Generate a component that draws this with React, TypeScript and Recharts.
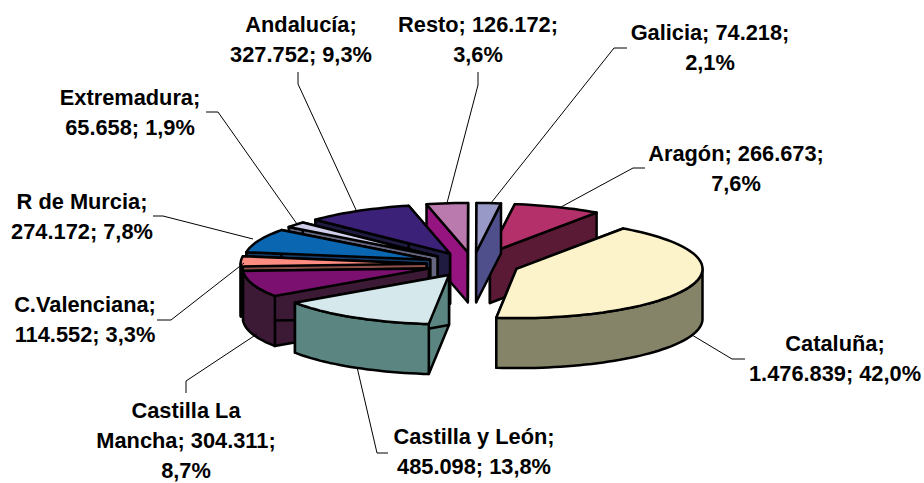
import { PieChart, Pie } from "recharts";

// paint order: the pie runs counter-clockwise from the Aragón / Cataluña edge,
// so Cataluña comes last and sits on top of its neighbours
const regions = [
  "Aragón",
  "Galicia",
  "Resto",
  "Andalucía",
  "Extremadura",
  "R de Murcia",
  "C.Valenciana",
  "Castilla La Mancha",
  "Castilla y León",
  "Cataluña",
];
const values = [266673, 74218, 126172, 327752, 65658, 274172, 114552, 304311, 485098, 1476839];
const topColors = [
  "#B3306B", "#9999C8", "#BB7AAE", "#3C2178", "#CFCFEC",
  "#0A66B0", "#FF8C80", "#7B1071", "#D5E9EC", "#FDF3CB",
];
const wallColors = [
  "#5A1A35", "#4F4F8C", "#961480", "#1F1A40", "#666680",
  "#163A66", "#8C4F4A", "#3C1A35", "#5B8580", "#858468",
];
const labelLines = [
  ["Aragón; 266.673;", "7,6%"],
  ["Galicia; 74.218;", "2,1%"],
  ["Resto; 126.172;", "3,6%"],
  ["Andalucía;", "327.752; 9,3%"],
  ["Extremadura;", "65.658; 1,9%"],
  ["R de Murcia;", "274.172; 7,8%"],
  ["C.Valenciana;", "114.552; 3,3%"],
  ["Castilla La", "Mancha; 304.311;", "8,7%"],
  ["Castilla y León;", "485.098; 13,8%"],
  ["Cataluña;", "1.476.839; 42,0%"],
];

// label layout, kept apart from the data
const labelX = [736, 710, 478, 301, 130, 82, 85, 186, 474, 835];
const labelY = [161, 40, 32, 32, 105, 209, 312, 418, 444, 351];
const leaders = [
  "645,168 633,168 561,207",
  "627,48 614,48 491,203",
  "478,72 478,85 447,203",
  "298,72 298,84 357,212",
  "206,112 218,112 297,224",
  "153,216 163,216 253,239",
  "157,320 171,320 244,263",
  "186,393 186,381 257,334",
  "388,453 377,453 357,367",
  "745,359 732,359 692,335",
];

const CX = 473;
const CY = 264.5;
const RADIUS = 186;
const SQUASH = 0.265; // vertical tilt of the pie
const DEPTH = 50;
const EXPLODE = 0.25;

const rows = regions.map((name, i) => ({
  name,
  value: values[i],
  top: topColors[i],
  wall: wallColors[i],
  idx: i,
}));

const rad = (a: number) => (a * Math.PI) / 180;

const Slice3D = (props: any) => {
  const { cx, cy, outerRadius, startAngle, endAngle, midAngle } = props;
  const row = props.payload ?? props;
  const lo = Math.min(startAngle, endAngle);
  const hi = Math.max(startAngle, endAngle);

  // explode along the middle of the slice
  const ax = cx + EXPLODE * outerRadius * Math.cos(rad(midAngle));
  const ay = cy - EXPLODE * outerRadius * SQUASH * Math.sin(rad(midAngle));
  const at = (a: number, drop = 0) =>
    `${(ax + outerRadius * Math.cos(rad(a))).toFixed(1)},${(
      ay - outerRadius * SQUASH * Math.sin(rad(a)) + drop
    ).toFixed(1)}`;

  const arc = (from: number, to: number, drop = 0) => {
    const pts: string[] = [];
    for (let a = from; a < to; a += 2) pts.push(at(a, drop));
    pts.push(at(to, drop));
    return pts;
  };

  const apex = `${ax},${ay}`;
  const apexLow = `${ax},${ay + DEPTH}`;
  const edge = {
    fill: row.wall,
    stroke: "#000",
    strokeWidth: 2.5,
    strokeLinejoin: "round" as const,
  };

  // outer wall only shows on the front half of the ellipse
  const fronts = [
    [180, 360],
    [540, 720],
  ]
    .map(([a, b]) => [Math.max(a, lo), Math.min(b, hi)])
    .filter(([a, b]) => b > a);

  return (
    <g>
      <polygon {...edge} points={[apex, at(hi), at(hi, DEPTH), apexLow].join(" ")} />
      <polygon {...edge} points={[apex, at(lo), at(lo, DEPTH), apexLow].join(" ")} />
      {fronts.map(([a, b]) => (
        <polygon
          key={a}
          {...edge}
          points={[...arc(a, b), ...arc(a, b, DEPTH).reverse()].join(" ")}
        />
      ))}
      <polygon {...edge} fill={row.top} points={[apex, ...arc(lo, hi)].join(" ")} />
    </g>
  );
};

const renderLabel = (props: any) => {
  const i = props.idx ?? props.payload?.idx ?? props.index;
  return (
    <g key={regions[i]}>
      <polyline points={leaders[i]} fill="none" stroke="#000" strokeWidth={1} />
      <text
        textAnchor="middle"
        fontFamily="Liberation Sans"
        fontWeight="bold"
        fontSize={21.8}
        fill="#000"
      >
        {labelLines[i].map((line, n) => (
          <tspan key={n} x={labelX[i]} y={labelY[i] + n * 30}>
            {line}
          </tspan>
        ))}
      </text>
    </g>
  );
};

export default function App() {
  return (
    <div style={{ position: "absolute", left: 0, top: 0, width: 924, height: 483 }}>
      <PieChart width={924} height={483} margin={{ top: 0, right: 0, bottom: 0, left: 0 }}>
        <Pie
          data={rows}
          dataKey="value"
          nameKey="name"
          cx={CX}
          cy={CY}
          innerRadius={0}
          outerRadius={RADIUS}
          startAngle={55}
          endAngle={415}
          stroke="none"
          shape={Slice3D}
          label={renderLabel}
          labelLine={false}
          isAnimationActive={false}
        />
      </PieChart>
    </div>
  );
}
